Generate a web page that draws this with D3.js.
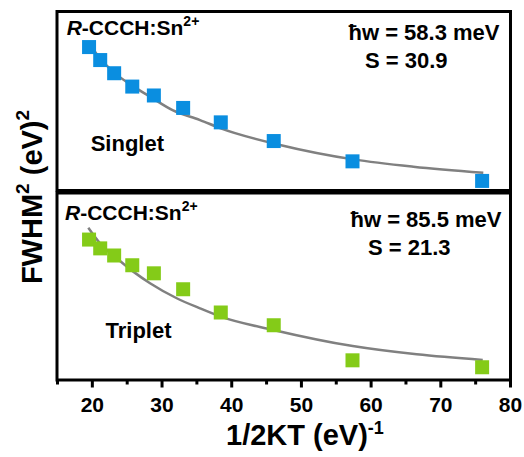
<!DOCTYPE html>
<html>
<head>
<meta charset="utf-8">
<script src="https://cdn.jsdelivr.net/npm/d3@7"></script>
<style>
  html, body { margin: 0; padding: 0; background: #fff; }
  svg { display: block; font-family: "Liberation Sans", Arial, Helvetica, sans-serif; font-weight: bold; }
</style>
</head>
<body>
<svg id="chart" width="524" height="457"></svg>
<script>
// ---- data ----
const xValues = [19.6, 21.2, 23.2, 25.8, 28.9, 33.1, 38.5, 46.1, 57.4, 76.0];
const singletValues = [80.3, 73.0, 65.6, 58.1, 53.1, 46.1, 38.0, 27.5, 16.1, 5.1];
const tripletValues = [74.9, 70.2, 66.4, 61.2, 56.9, 48.4, 36.0, 29.2, 10.5, 6.8];

const singletFitX = [19.63, 21.17, 23.57, 25.95, 28.35, 31.65, 35.52, 38.39, 47.0, 57.52, 66.13, 76.17];
const singletFitY = [82.4, 74.0, 64.8, 58.2, 52.4, 44.7, 39.3, 34.8, 25.3, 17.2, 13.1, 9.7];
const tripletFitX = [19.49, 21.17, 23.57, 25.95, 28.35, 32.18, 35.52, 38.49, 46.04, 57.43, 66.61, 76.09];
const tripletFitY = [81.2, 72.9, 64.9, 57.8, 51.6, 43.6, 38.2, 33.8, 26.7, 18.1, 13.7, 10.7];

const majorTicks = [20, 30, 40, 50, 60, 70, 80];
const minorTicks = [15, 25, 35, 45, 55, 65, 75];

const panels = [
  { name: "Singlet", values: singletValues, fitX: singletFitX, fitY: singletFitY,
    hw: "ħw = 58.3 meV", S: "S = 30.9", color: "#0a8ee0" },
  { name: "Triplet", values: tripletValues, fitX: tripletFitX, fitY: tripletFitY,
    hw: "ħw = 85.5 meV", S: "S = 21.3", color: "#84cb18" }
];

// ---- layout ----
const svg = d3.select("#chart");
const left = 57, right = 510.5;
const boxes = [
  { top: 11.5, bottom: 190.5 },
  { top: 193, bottom: 380 }
];
const x = d3.scaleLinear().domain([15, 80]).range([57, 510]);
const yScales = [
  d3.scaleLinear().domain([0, 100]).range([190, 12]),
  d3.scaleLinear().domain([0, 100]).range([380, 192.5])
];

// text layout for each panel
const textPos = [
  { rx: 66.7, ry: 35, hwx: 499.5, hwy: 40, sx: 365, sy: 68, nx: 90.7, ny: 150.7 },
  { rx: 65, ry: 220, hwx: 501.5, hwy: 227.3, sx: 368, sy: 255, nx: 105.5, ny: 337.7 }
];

panels.forEach((p, i) => {
  const y = yScales[i];
  const g = svg.append("g");

  // fit curve
  const line = d3.line().x(d => x(d[0])).y(d => y(d[1])).curve(d3.curveMonotoneX);
  g.append("path")
    .datum(p.fitX.map((v, k) => [v, p.fitY[k]]))
    .attr("d", line)
    .attr("fill", "none")
    .attr("stroke", "#808080")
    .attr("stroke-width", 2.5);

  // markers
  const s = 14;
  g.selectAll("rect.pt")
    .data(xValues.map((v, k) => [v, p.values[k]]))
    .join("rect")
    .attr("class", "pt")
    .attr("x", d => x(d[0]) - s / 2)
    .attr("y", d => y(d[1]) - s / 2)
    .attr("width", s)
    .attr("height", s)
    .attr("fill", p.color);

  // frame
  const b = boxes[i];
  g.append("rect")
    .attr("x", left).attr("y", b.top)
    .attr("width", right - left).attr("height", b.bottom - b.top)
    .attr("fill", "none").attr("stroke", "#000").attr("stroke-width", 3);

  const t = textPos[i];
  const rt = g.append("text").attr("x", t.rx).attr("y", t.ry).attr("font-size", 21).attr("fill", "#000");
  rt.append("tspan").attr("font-style", "italic").text("R");
  rt.append("tspan").text("-CCCH:Sn");
  rt.append("tspan").attr("font-size", 14).attr("dy", -9).text("2+");

  g.append("text").attr("x", t.hwx).attr("y", t.hwy).attr("text-anchor", "end")
    .attr("font-size", 22).text(p.hw);
  g.append("text").attr("x", t.sx).attr("y", t.sy)
    .attr("font-size", 22).text(p.S);
  g.append("text").attr("x", t.nx).attr("y", t.ny)
    .attr("font-size", 22).text(p.name);
});

// ---- x axis (bottom panel) ----
const axisG = svg.append("g").attr("transform", "translate(0,380)");
axisG.call(d3.axisBottom(x).tickValues(majorTicks).tickSize(7.5).tickPadding(9.5).tickFormat(d3.format("d")));
axisG.select(".domain").remove();
axisG.selectAll(".tick line").attr("stroke", "#000").attr("stroke-width", 3);
axisG.selectAll(".tick text").attr("font-size", 21).attr("font-weight", "bold")
  .attr("font-family", "Liberation Sans, Arial, sans-serif").attr("fill", "#000");

const minorG = svg.append("g").attr("transform", "translate(0,380)");
minorG.call(d3.axisBottom(x).tickValues(minorTicks).tickSize(4.5).tickFormat(""));
minorG.select(".domain").remove();
minorG.selectAll(".tick line").attr("stroke", "#000").attr("stroke-width", 3);

// ---- axis titles ----
const xt = svg.append("text").attr("x", 226).attr("y", 445).attr("font-size", 29).attr("fill", "#000");
xt.append("tspan").text("1/2KT (eV)");
xt.append("tspan").attr("font-size", 18).attr("dy", -11).text("-1");

const yt = svg.append("text")
  .attr("transform", "translate(41.5,197) rotate(-90)")
  .attr("text-anchor", "middle").attr("font-size", 29).attr("fill", "#000");
yt.append("tspan").text("FWHM");
yt.append("tspan").attr("font-size", 19).attr("dy", -13).text("2");
yt.append("tspan").attr("dy", 13).text(" (eV)");
yt.append("tspan").attr("font-size", 19).attr("dy", -13).text("2");
</script>
</body>
</html>
